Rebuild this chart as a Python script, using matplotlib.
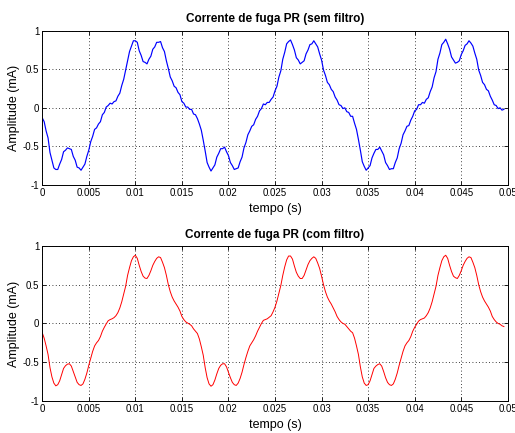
import numpy as np
import matplotlib
matplotlib.use("Agg")
import matplotlib.pyplot as plt

plt.rcParams['font.family'] = ['Liberation Sans', 'DejaVu Sans']

fs = 4800  # taxa de amostragem lida (Hz) -> 80 amostras por ciclo de 60 Hz

# corrente de fuga sem filtro (mA), ciclo a ciclo
sem_filtro = [
    # ciclo 1
    -0.13, -0.18, -0.30, -0.39, -0.58, -0.68, -0.78, -0.80, -0.80, -0.73,
    -0.67, -0.57, -0.55, -0.52, -0.53, -0.54, -0.63, -0.68, -0.77, -0.78,
    -0.81, -0.77, -0.73, -0.63, -0.55, -0.44, -0.37, -0.28, -0.26, -0.21,
    -0.18, -0.09, -0.06, 0.01, 0.03, 0.06, 0.05, 0.08, 0.09, 0.15,
    0.19, 0.29, 0.37, 0.49, 0.61, 0.73, 0.80, 0.87, 0.87, 0.85,
    0.74, 0.68, 0.60, 0.59, 0.57, 0.63, 0.67, 0.76, 0.79, 0.85,
    0.85, 0.86, 0.78, 0.73, 0.61, 0.51, 0.40, 0.35, 0.28, 0.26,
    0.20, 0.17, 0.08, 0.06, 0.01, 0.01, -0.02, -0.02, -0.08, -0.09,
    # ciclo 2
    -0.14, -0.21, -0.29, -0.42, -0.56, -0.71, -0.77, -0.82, -0.78, -0.74,
    -0.64, -0.59, -0.53, -0.53, -0.51, -0.57, -0.62, -0.71, -0.75, -0.80,
    -0.79, -0.78, -0.70, -0.64, -0.52, -0.45, -0.35, -0.30, -0.24, -0.22,
    -0.15, -0.11, -0.04, -0.01, 0.05, 0.04, 0.07, 0.07, 0.11, 0.14,
    0.22, 0.28, 0.40, 0.48, 0.63, 0.72, 0.83, 0.86, 0.88, 0.82,
    0.75, 0.65, 0.62, 0.57, 0.59, 0.61, 0.70, 0.75, 0.82, 0.83,
    0.87, 0.83, 0.79, 0.70, 0.62, 0.49, 0.42, 0.33, 0.30, 0.24,
    0.21, 0.14, 0.10, 0.04, 0.03, -0.01, 0.00, -0.05, -0.06, -0.11,
    # ciclo 3
    -0.11, -0.20, -0.28, -0.41, -0.55, -0.70, -0.76, -0.81, -0.78, -0.75,
    -0.65, -0.59, -0.54, -0.54, -0.51, -0.56, -0.61, -0.71, -0.75, -0.80,
    -0.79, -0.79, -0.71, -0.65, -0.53, -0.46, -0.35, -0.30, -0.24, -0.23,
    -0.16, -0.11, -0.04, -0.02, 0.04, 0.04, 0.07, 0.06, 0.11, 0.13,
    0.21, 0.27, 0.39, 0.47, 0.63, 0.71, 0.82, 0.85, 0.89, 0.83,
    0.76, 0.66, 0.62, 0.58, 0.59, 0.61, 0.69, 0.74, 0.81, 0.83,
    0.87, 0.84, 0.80, 0.71, 0.63, 0.49, 0.42, 0.33, 0.30, 0.24,
    0.22, 0.15, 0.10, 0.04, 0.03, -0.01, 0.00, -0.03, -0.02,
]

# corrente de fuga com filtro (mA)
com_filtro = [
    # ciclo 1
    -0.12, -0.19, -0.29, -0.40, -0.57, -0.69, -0.77, -0.805, -0.79, -0.74,
    -0.66, -0.58, -0.545, -0.525, -0.52, -0.55, -0.62, -0.69, -0.76, -0.79,
    -0.80, -0.78, -0.72, -0.64, -0.54, -0.45, -0.36, -0.29, -0.25, -0.22,
    -0.17, -0.10, -0.05, -0.005, 0.035, 0.05, 0.06, 0.075, 0.10, 0.14,
    0.20, 0.28, 0.38, 0.48, 0.62, 0.72, 0.81, 0.86, 0.88, 0.84,
    0.75, 0.67, 0.61, 0.585, 0.58, 0.62, 0.68, 0.75, 0.80, 0.84,
    0.86, 0.85, 0.79, 0.72, 0.62, 0.50, 0.41, 0.34, 0.29, 0.25,
    0.21, 0.16, 0.09, 0.05, 0.02, 0.005, -0.01, -0.03, -0.07, -0.10,
    # ciclo 2
    -0.13, -0.20, -0.30, -0.41, -0.57, -0.70, -0.78, -0.81, -0.79, -0.73,
    -0.65, -0.58, -0.54, -0.52, -0.52, -0.56, -0.63, -0.70, -0.76, -0.79,
    -0.80, -0.77, -0.71, -0.63, -0.53, -0.44, -0.36, -0.29, -0.25, -0.21,
    -0.16, -0.10, -0.05, 0.00, 0.04, 0.05, 0.06, 0.08, 0.10, 0.15,
    0.21, 0.29, 0.39, 0.49, 0.62, 0.73, 0.82, 0.87, 0.87, 0.83,
    0.74, 0.66, 0.61, 0.58, 0.58, 0.62, 0.69, 0.76, 0.81, 0.84,
    0.86, 0.84, 0.78, 0.71, 0.61, 0.50, 0.41, 0.34, 0.29, 0.25,
    0.20, 0.15, 0.09, 0.05, 0.02, 0.00, -0.01, -0.04, -0.07, -0.10,
    # ciclo 3
    -0.12, -0.19, -0.29, -0.40, -0.56, -0.69, -0.77, -0.80, -0.79, -0.74,
    -0.66, -0.58, -0.55, -0.53, -0.52, -0.55, -0.62, -0.70, -0.76, -0.79,
    -0.80, -0.78, -0.72, -0.64, -0.54, -0.45, -0.36, -0.29, -0.25, -0.22,
    -0.17, -0.10, -0.05, -0.01, 0.03, 0.05, 0.06, 0.07, 0.10, 0.14,
    0.20, 0.28, 0.38, 0.48, 0.62, 0.72, 0.81, 0.86, 0.88, 0.84,
    0.75, 0.67, 0.61, 0.59, 0.58, 0.62, 0.68, 0.75, 0.80, 0.84,
    0.86, 0.85, 0.79, 0.72, 0.62, 0.50, 0.41, 0.34, 0.29, 0.25,
    0.21, 0.16, 0.09, 0.05, 0.02, 0.00, -0.01, -0.03, -0.04,
]

x_ticks = [0, 0.005, 0.01, 0.015, 0.02, 0.025, 0.03, 0.035, 0.04, 0.045, 0.05]
x_labels = ['0', '0.005', '0.01', '0.015', '0.02', '0.025', '0.03', '0.035', '0.04', '0.045', '0.05']
y_ticks = [-1, -0.5, 0, 0.5, 1]
y_labels = ['-1', '-0.5', '0', '0.5', '1']

t = np.arange(len(sem_filtro)) / fs

fig = plt.figure(figsize=(5.15, 4.33), dpi=100)
ax1 = fig.add_axes([0.082, 0.573, 0.904, 0.356])
ax2 = fig.add_axes([0.082, 0.074, 0.904, 0.358])

plots = [
    (ax1, sem_filtro, 'blue', 0.85, 'Corrente de fuga PR (sem filtro)'),
    (ax2, com_filtro, 'red', 0.7, 'Corrente de fuga PR (com filtro)'),
]

for ax, y, cor, lw, titulo in plots:
    ax.plot(t, y, color=cor, lw=lw)
    ax.set_xlim(0, 0.05)
    ax.set_ylim(-1, 1)
    ax.set_xticks(x_ticks)
    ax.set_xticklabels(x_labels)
    ax.set_yticks(y_ticks)
    ax.set_yticklabels(y_labels)
    ax.grid(True, color='k', linestyle=(0, (1, 3)), linewidth=0.6)
    ax.tick_params(direction='in', length=3, width=0.6, labelsize=7,
                   top=True, right=True, pad=2)
    for s in ax.spines.values():
        s.set_linewidth(0.7)
    ax.set_title(titulo, fontsize=8.5, fontweight='bold', pad=6)
    ax.set_xlabel('tempo (s)', fontsize=9, labelpad=4)
    ax.set_ylabel('Amplitude (mA)', fontsize=9, labelpad=2)

fig.savefig('out.png', dpi=100)
